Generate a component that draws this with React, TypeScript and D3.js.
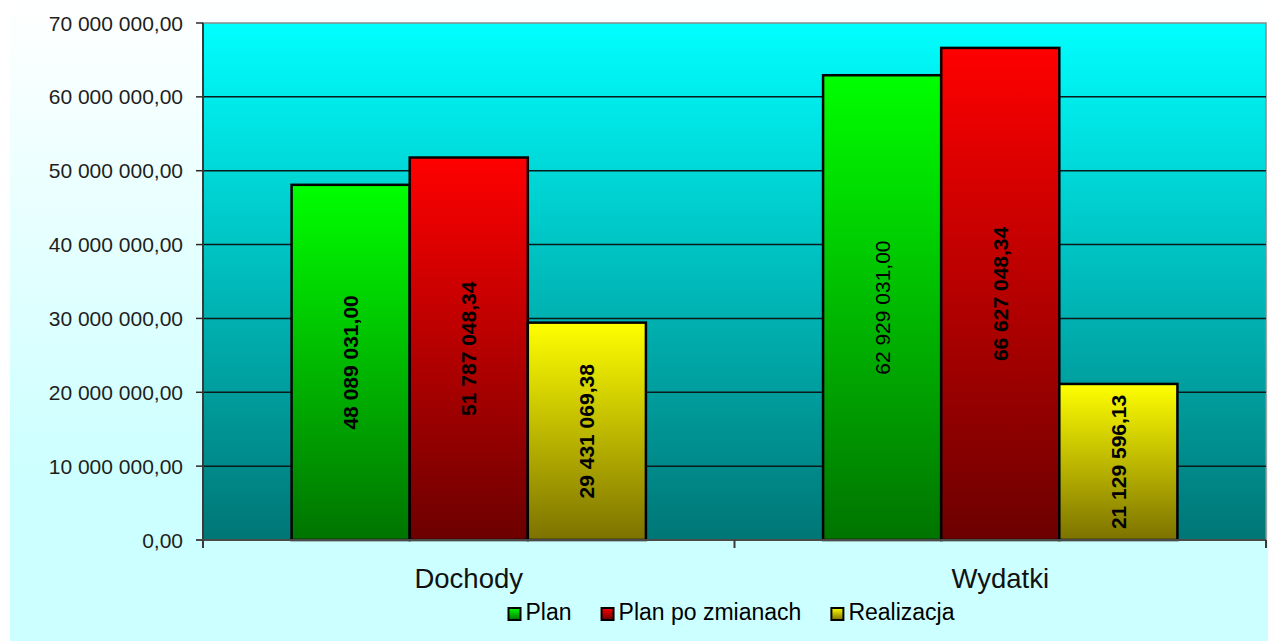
import React, { useEffect, useRef } from 'react';
import * as d3 from 'd3';

const categories = ['Dochody', 'Wydatki'];
const seriesNames = ['Plan', 'Plan po zmianach', 'Realizacja'];
const planValues = [48089031.0, 62929031.0];
const planChangedValues = [51787048.34, 66627048.34];
const realizationValues = [29431069.38, 21129596.13];
const yTicks = [0, 10000000, 20000000, 30000000, 40000000, 50000000, 60000000, 70000000];

const plLocale = d3.formatLocale({ decimal: ',', thousands: ' ', grouping: [3], currency: ['', ''] });
const fmt = plLocale.format(',.2f');

const colors = [
  ['#00ff00', '#007400'],
  ['#ff0000', '#6c0000'],
  ['#ffff00', '#7c7200'],
];

export default function App() {
  const svgRef = useRef<SVGSVGElement>(null);

  useEffect(() => {
    document.body.style.margin = '0';
    if (!svgRef.current) return;
    const svg = d3.select(svgRef.current);
    svg.selectAll('*').remove();

    const width = 1268;
    const height = 641;
    const plot = { left: 203, right: 1266, top: 23, bottom: 540 };
    const font = '"Liberation Sans", Arial, sans-serif';

    const defs = svg.append('defs');
    const addGrad = (id: string, c0: string, c1: string, stop1 = '100%') => {
      const g = defs.append('linearGradient').attr('id', id)
        .attr('x1', 0).attr('y1', 0).attr('x2', 0).attr('y2', 1);
      g.append('stop').attr('offset', '0%').attr('stop-color', c0);
      g.append('stop').attr('offset', stop1).attr('stop-color', c1);
    };
    addGrad('bgGrad', '#ffffff', '#ccffff', '75%');
    addGrad('plotGrad', '#00ffff', '#007676');
    colors.forEach((c, i) => addGrad(`barGrad${i}`, c[0], c[1]));

    // chart background
    svg.append('rect').attr('width', width).attr('height', height).attr('fill', '#ffffff');
    svg.append('rect').attr('x', 10).attr('y', 0).attr('width', width - 10).attr('height', height)
      .attr('fill', 'url(#bgGrad)');

    const x0 = d3.scaleBand().domain(categories).range([plot.left, plot.right]);
    const x1 = d3.scaleBand().domain(seriesNames).range([0, x0.bandwidth()])
      .paddingInner(0).paddingOuter(0.75);
    const y = d3.scaleLinear().domain([0, 70000000]).range([plot.bottom, plot.top]);

    // plot area
    svg.append('rect')
      .attr('x', plot.left).attr('y', plot.top)
      .attr('width', plot.right - plot.left).attr('height', plot.bottom - plot.top)
      .attr('fill', 'url(#plotGrad)')
      .attr('stroke', '#8a8a8a').attr('stroke-width', 1.5);

    // grid lines
    svg.selectAll('.grid').data(yTicks.filter(t => t > 0 && t < 70000000)).enter()
      .append('line')
      .attr('x1', plot.left).attr('x2', plot.right)
      .attr('y1', d => y(d)).attr('y2', d => y(d))
      .attr('stroke', '#0a1a1a').attr('stroke-width', 1.5);

    // bars
    const series = [planValues, planChangedValues, realizationValues];
    categories.forEach((cat, ci) => {
      series.forEach((vals, si) => {
        const v = vals[ci];
        const bx = (x0(cat) || 0) + (x1(seriesNames[si]) || 0);
        const bw = x1.bandwidth();
        svg.append('rect')
          .attr('x', bx).attr('y', y(v))
          .attr('width', bw).attr('height', y(0) - y(v))
          .attr('fill', `url(#barGrad${si})`)
          .attr('stroke', '#000').attr('stroke-width', 2.5);
        const cx = bx + bw / 2;
        const cy = (y(v) + y(0)) / 2;
        svg.append('text')
          .attr('transform', `translate(${cx},${cy}) rotate(-90)`)
          .attr('text-anchor', 'middle')
          .attr('dy', '0.36em')
          .attr('font-family', font)
          .attr('font-size', 21)
          .attr('font-weight', ci === 1 && si === 0 ? 'normal' : 'bold')
          .attr('fill', '#000')
          .text(fmt(v));
      });
    });

    // y axis
    svg.append('line')
      .attr('x1', plot.left).attr('x2', plot.left)
      .attr('y1', plot.top).attr('y2', plot.bottom + 6)
      .attr('stroke', '#3a3a3a').attr('stroke-width', 2);
    svg.selectAll('.ytick').data(yTicks).enter().append('line')
      .attr('x1', plot.left - 7).attr('x2', plot.left)
      .attr('y1', d => y(d)).attr('y2', d => y(d))
      .attr('stroke', '#2a2a2a').attr('stroke-width', 1.5);
    svg.selectAll('.ylabel').data(yTicks).enter().append('text')
      .attr('x', 183).attr('y', d => y(d))
      .attr('dy', '0.36em')
      .attr('text-anchor', 'end')
      .attr('font-family', font)
      .attr('font-size', 21)
      .attr('fill', '#1e1e1e')
      .text(d => fmt(d));

    // x axis
    svg.append('line')
      .attr('x1', plot.left - 7).attr('x2', plot.right)
      .attr('y1', plot.bottom).attr('y2', plot.bottom)
      .attr('stroke', '#4a4a4a').attr('stroke-width', 2);
    const bounds = [...categories.map(c => x0(c) || 0), plot.right];
    svg.selectAll('.xtick').data(bounds).enter().append('line')
      .attr('x1', d => d).attr('x2', d => d)
      .attr('y1', plot.bottom).attr('y2', plot.bottom + 8)
      .attr('stroke', '#3a3a3a').attr('stroke-width', 2);
    svg.selectAll('.xlabel').data(categories).enter().append('text')
      .attr('x', d => (x0(d) || 0) + x0.bandwidth() / 2)
      .attr('y', 588)
      .attr('text-anchor', 'middle')
      .attr('font-family', font)
      .attr('font-size', 27.5)
      .attr('fill', '#111')
      .text(d => d);

    // legend
    const lg = svg.append('g');
    let lx = 0;
    seriesNames.forEach((name, i) => {
      const item = lg.append('g').attr('transform', `translate(${lx},0)`);
      item.append('rect').attr('x', 0).attr('y', -12).attr('width', 12).attr('height', 12)
        .attr('fill', `url(#barGrad${i})`).attr('stroke', '#000').attr('stroke-width', 2);
      const t = item.append('text').attr('x', 17).attr('y', 0)
        .attr('font-family', font).attr('font-size', 23).attr('fill', '#000')
        .text(name);
      const w = (t.node() as SVGTextElement).getComputedTextLength();
      lx += 17 + w + 30;
    });
    const legendWidth = lx - 30;
    lg.attr('transform', `translate(${(x0(categories[1]) || 0) - legendWidth / 2 - 3},620)`);
  }, []);

  return <svg ref={svgRef} width={1268} height={641} style={{ display: 'block' }} />;
}
